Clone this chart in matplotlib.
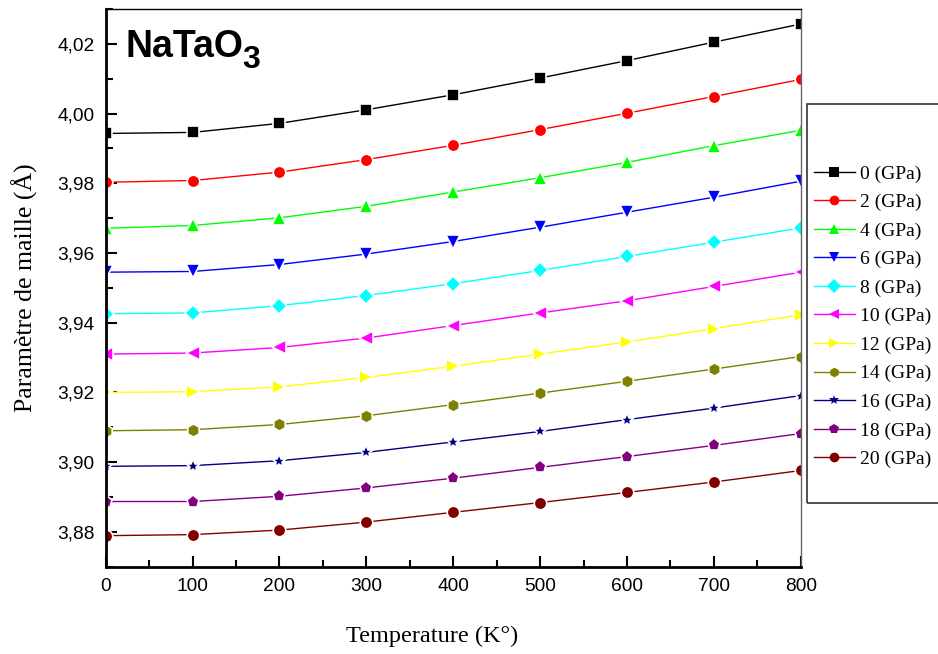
import numpy as np
import matplotlib
matplotlib.use("Agg")
import matplotlib.pyplot as plt
from matplotlib.ticker import MultipleLocator, FuncFormatter
from matplotlib.patches import Rectangle

# temperature (K) and lattice parameter (Angstrom) for each pressure
temperature = [0, 100, 200, 300, 400, 500, 600, 700, 800]
pressures = ['0', '2', '4', '6', '8', '10', '12', '14', '16', '18', '20']

a_0 = [3.9943, 3.9946, 3.9972, 4.0011, 4.0054, 4.0102, 4.0152, 4.0205, 4.0257]
a_2 = [3.9803, 3.9808, 3.9832, 3.9868, 3.9909, 3.9954, 4.0001, 4.0049, 4.0098]
a_4 = [3.9671, 3.9679, 3.9701, 3.9734, 3.9775, 3.9816, 3.9860, 3.9908, 3.9952]
a_6 = [3.9545, 3.9547, 3.9567, 3.9597, 3.9633, 3.9674, 3.9717, 3.9760, 3.9806]
a_8 = [3.9426, 3.9428, 3.9449, 3.9478, 3.9512, 3.9550, 3.9590, 3.9631, 3.9672]
a_10 = [3.9310, 3.9313, 3.9329, 3.9356, 3.9392, 3.9428, 3.9463, 3.9504, 3.9545]
a_12 = [3.9200, 3.9202, 3.9216, 3.9243, 3.9275, 3.9310, 3.9345, 3.9383, 3.9423]
a_14 = [3.9090, 3.9093, 3.9108, 3.9133, 3.9165, 3.9198, 3.9232, 3.9267, 3.9303]
a_16 = [3.8988, 3.8990, 3.9004, 3.9028, 3.9058, 3.9088, 3.9122, 3.9155, 3.9191]
a_18 = [3.8887, 3.8887, 3.8902, 3.8926, 3.8954, 3.8985, 3.9016, 3.9048, 3.9082]
a_20 = [3.8789, 3.8792, 3.8805, 3.8828, 3.8856, 3.8884, 3.8913, 3.8943, 3.8976]

series = [a_0, a_2, a_4, a_6, a_8, a_10, a_12, a_14, a_16, a_18, a_20]
colors = ['#000000', '#ff0000', '#00ff00', '#0000ff', '#00ffff', '#ff00ff',
          '#ffff00', '#808000', '#000080', '#800080', '#800000']
markers = ['s', 'o', '^', 'v', 'D', '<', '>', 'h', '*', 'p', 'o']
msizes = [8, 9, 10, 10, 8.5, 10, 10, 9.5, 10, 9.5, 9]

fig = plt.figure(figsize=(9.38, 6.54), dpi=100)
ax = fig.add_axes([0.1127, 0.1335, 0.741, 0.8527])

handles = []
for p, vals, c, m, ms in zip(pressures, series, colors, markers, msizes):
    h, = ax.plot(temperature, vals, color=c, lw=1.0, marker=m, markersize=ms,
                 markerfacecolor=c, markeredgecolor='white', markeredgewidth=1.2,
                 label=p + ' (GPa)')
    handles.append(h)

ax.set_xlim(0, 800)
ax.set_ylim(3.870, 4.030)
ax.xaxis.set_major_locator(MultipleLocator(100))
ax.xaxis.set_minor_locator(MultipleLocator(50))
ax.yaxis.set_major_locator(MultipleLocator(0.02))
ax.yaxis.set_minor_locator(MultipleLocator(0.01))
ax.yaxis.set_major_formatter(FuncFormatter(lambda v, pos: ('%.2f' % v).replace('.', ',')))

ax.tick_params(which='both', direction='in', top=False, right=False,
               labelsize=13.8, width=1.5, colors='black')
ax.tick_params(which='major', length=8, pad=8)
ax.tick_params(which='minor', length=5)
for lab in ax.get_xticklabels() + ax.get_yticklabels():
    lab.set_fontfamily('Liberation Sans')

ax.spines['left'].set_linewidth(2.0)
ax.spines['bottom'].set_linewidth(2.0)
ax.spines['top'].set_linewidth(1.0)
ax.spines['right'].set_linewidth(1.0)
ax.spines['right'].set_color('#666666')

ax.set_xlabel('Temperature (K°)', family='Liberation Serif', fontsize=17.5)
ax.xaxis.set_label_coords(0.469, -0.106)
ax.set_ylabel('Paramètre de maille (Å)', family='Liberation Serif', fontsize=18.5)
ax.yaxis.set_label_coords(-0.097, 0.5)

# compound name with a large, low subscript
name = ax.text(0.029, 0.914, 'NaTaO', transform=ax.transAxes, fontsize=27,
               fontweight='bold', family='Liberation Sans', ha='left', va='baseline')
ax.annotate('3', xy=(1, 0), xycoords=name, xytext=(-1, -2), textcoords='offset points',
            fontsize=23, fontweight='bold', family='Liberation Sans',
            ha='left', va='baseline')

# legend box sits outside the axes, running off the right edge
fig.patches.append(Rectangle((807 / 938, 1 - 503 / 654), 0.2, (503 - 104) / 654,
                             transform=fig.transFigure, fill=False,
                             edgecolor='#333333', lw=1.2))
leg = fig.legend(handles=handles, loc='upper left',
                 bbox_to_anchor=(808 / 938, 1 - 159 / 654), frameon=False,
                 prop={'family': 'Liberation Serif', 'size': 14},
                 handlelength=2.1, handletextpad=0.3, labelspacing=0.56,
                 borderaxespad=0, borderpad=0.3)
for lh in leg.legend_handles:
    lh.set_markersize(7)
    lh.set_markeredgewidth(0)

fig.savefig('out.png', dpi=100)
